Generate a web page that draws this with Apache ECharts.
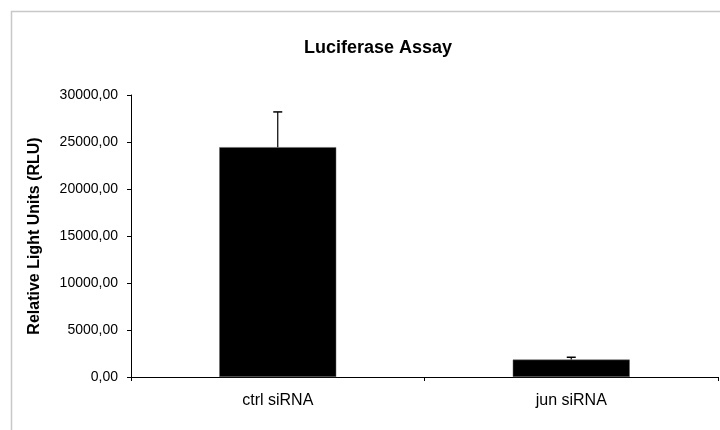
<!DOCTYPE html>
<html>
<head>
<meta charset="utf-8">
<script src="https://cdn.jsdelivr.net/npm/echarts@6/dist/echarts.min.js"></script>
<style>
  html, body { margin: 0; padding: 0; background: #fff; }
  #luciferaseChart { width: 720px; height: 430px; }
</style>
</head>
<body>
<div id="luciferaseChart"></div>
<script>
// chart data
var categories = ['ctrl siRNA', 'jun siRNA'];
var rluValues = [24450, 1850];
var rluErrors = [3750, 250];
var yTicks = [0, 5000, 10000, 15000, 20000, 25000, 30000];

var chart = echarts.init(document.getElementById('luciferaseChart'));

// 25000 -> "25000,00"
function fmtComma(v) {
  return v.toFixed(2).replace('.', ',');
}

var errorData = [];
for (var i = 0; i < categories.length; i++) {
  errorData.push([i, rluValues[i], rluValues[i] + rluErrors[i]]);
}

var options = {
  backgroundColor: '#fff',
  animation: false,
  textStyle: { fontFamily: 'Liberation Sans, Arial, sans-serif' },
  title: {
    text: 'Luciferase Assay',
    left: 373,
    top: 34,
    textAlign: 'center',
    textStyle: { fontSize: 18, fontWeight: 'bold', color: '#000' }
  },
  graphic: [
    {
      type: 'rect',
      shape: { x: 11.5, y: 11.5, width: 720, height: 430 },
      style: { fill: 'none', stroke: '#c8c8c8', lineWidth: 1.5 },
      silent: true
    }
  ],
  grid: { left: 131, right: 2, top: 95, bottom: 53 },
  xAxis: {
    type: 'category',
    data: categories,
    axisLine: { lineStyle: { color: '#000', width: 1 } },
    axisTick: { show: true, length: 4, lineStyle: { color: '#000' } },
    axisLabel: { fontSize: 16, color: '#000', margin: 16 }
  },
  yAxis: {
    type: 'value',
    min: yTicks[0],
    max: yTicks[yTicks.length - 1],
    interval: yTicks[1] - yTicks[0],
    name: 'Relative Light Units (RLU)',
    nameLocation: 'middle',
    nameRotate: 90,
    nameGap: 88,
    nameTextStyle: { fontSize: 16, fontWeight: 'bold', color: '#000' },
    splitLine: { show: false },
    axisLine: { show: true, lineStyle: { color: '#000', width: 1 } },
    axisTick: { show: true, length: 4, lineStyle: { color: '#000' } },
    axisLabel: {
      fontSize: 14,
      color: '#000',
      margin: 13,
      formatter: function (v) { return fmtComma(v); }
    }
  },
  series: [
    {
      name: 'RLU',
      type: 'bar',
      data: rluValues,
      barWidth: 117,
      itemStyle: { color: '#000', borderColor: '#666', borderWidth: 0.5 }
    },
    {
      name: 'error',
      type: 'custom',
      data: errorData,
      z: 10,
      renderItem: function (params, api) {
        var base = api.coord([api.value(0), api.value(1)]);
        var top = api.coord([api.value(0), api.value(2)]);
        var half = 4.5;
        return {
          type: 'group',
          children: [
            {
              type: 'line',
              shape: { x1: base[0], y1: base[1], x2: top[0], y2: top[1] },
              style: { stroke: '#000', lineWidth: 1.2 }
            },
            {
              type: 'line',
              shape: { x1: top[0] - half, y1: top[1], x2: top[0] + half, y2: top[1] },
              style: { stroke: '#000', lineWidth: 1.5 }
            }
          ]
        };
      }
    }
  ]
};

chart.setOption(options);
</script>
</body>
</html>
